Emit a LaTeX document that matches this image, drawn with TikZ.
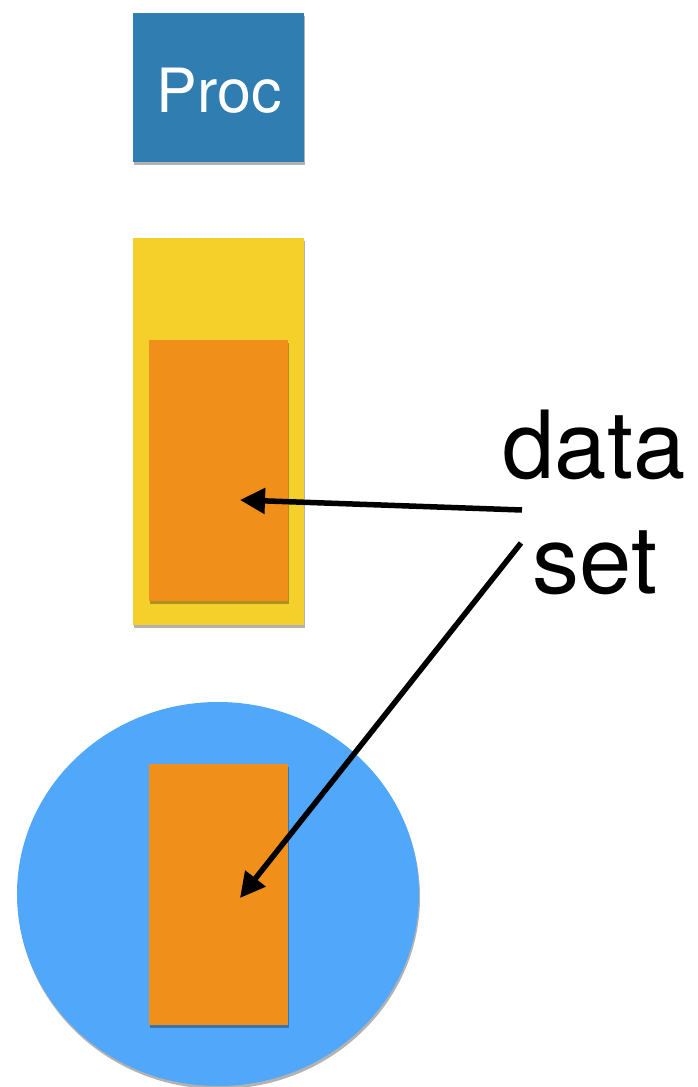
\documentclass[tikz,border=0pt]{standalone}
\usepackage{fontspec}
\setmainfont{TeX Gyre Heros}
\usetikzlibrary{shadows,arrows.meta,shapes.geometric}
\definecolor{procblue}{HTML}{2F7DB1}
\definecolor{ylw}{HTML}{F5D02A}
\definecolor{org}{HTML}{F18F1B}
\definecolor{circblue}{HTML}{51A7F9}
\tikzset{
  box/.style={rectangle, inner sep=0pt, draw=none, drop shadow={shadow xshift=1pt, shadow yshift=-3pt, opacity=0.3, fill=black}},
  lbl/.style={anchor=base, inner sep=0pt, font=\fontsize{94}{115}\selectfont},
  arr/.style={line width=5.5pt, -{Triangle[length=25pt,width=25pt]}}
}
\begin{document}
\begin{tikzpicture}[x=1pt,y=-1pt]
\useasboundingbox (0,0) rectangle (698,1087);
\begin{scope}
\clip (0,0) rectangle (698,1087);
% Proc box
\node[box, fill=procblue, minimum width=171pt, minimum height=149pt] (proc) at (218.5,87.5) {};
\node[anchor=base, inner sep=0pt, text=white, font=\fontsize{61}{70}\selectfont] (proctext) at (219,112) {Proc};
% yellow container with orange dataset
\node[box, fill=ylw, minimum width=171pt, minimum height=387pt] (ybox) at (218.5,431.5) {};
\node[box, fill=org, minimum width=139pt, minimum height=261pt] (o1) at (218.5,470.5) {};
% blue circle with orange dataset
\node[ellipse, inner sep=0pt, fill=circblue, minimum width=402pt, minimum height=384pt, drop shadow={shadow xshift=1pt, shadow yshift=-3pt, opacity=0.3, fill=black}] (circ) at (218,894) {};
\node[box, fill=org, minimum width=139pt, minimum height=261pt] (o2) at (218.5,894.5) {};
% label
\node[lbl] (data) at (594,478) {data};
\node[lbl] (set) at (595,593) {set};
% arrows
\coordinate (s1) at (522,510);
\coordinate (t1) at (240,500);
\coordinate (s2) at (521,543);
\coordinate (t2) at (240,898);
\draw[arr] (s1) -- (t1);
\draw[arr] (s2) -- (t2);
\end{scope}
\end{tikzpicture}
\end{document}
